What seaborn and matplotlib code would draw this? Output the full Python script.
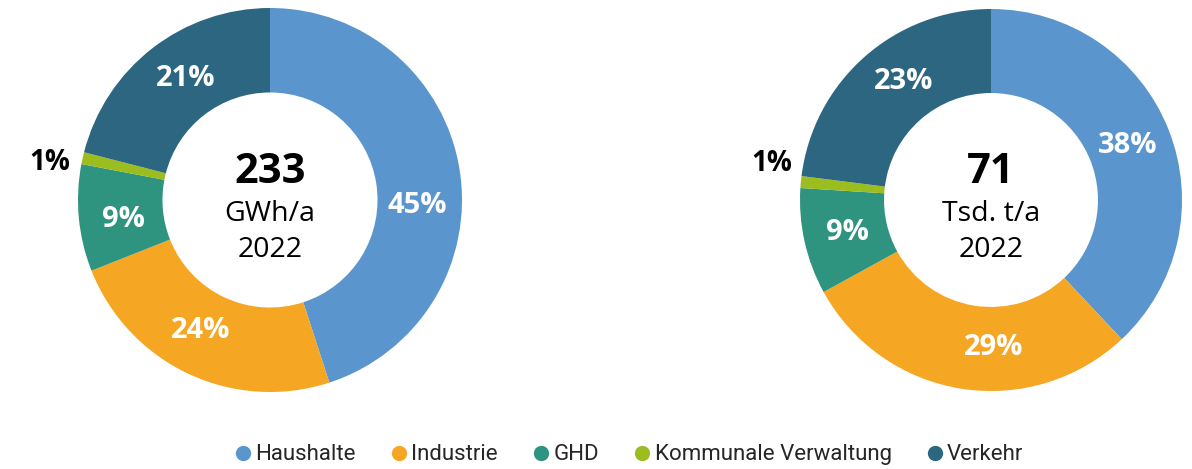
import numpy as np
import matplotlib
matplotlib.use("Agg")
import matplotlib.pyplot as plt
import seaborn as sns
from matplotlib.lines import Line2D

categories = ["Haushalte", "Industrie", "GHD", "Kommunale Verwaltung", "Verkehr"]
energy_share = [45, 24, 9, 1, 21]
co2_share = [38, 29, 9, 1, 23]
centre_texts = [("233", "GWh/a", "2022"), ("71", "Tsd. t/a", "2022")]
colors = ["#5B95CE", "#F5A623", "#2E9480", "#9BBD1E", "#2D6680"]
# small angular nudges (degrees) for the percentage labels
nudge_left = [-11, -3, 2, 2, -3]
nudge_right = [0, 10, 0, -5, -5]

sns.set_theme(style="white")
plt.rcParams['font.family'] = ['Open Sans', 'DejaVu Sans']

W, H = 1192, 469
fig = plt.figure(figsize=(W / 100, H / 100), dpi=100)
fig.patch.set_facecolor("white")


def donut(cx, cy, r, values, centre, nudges):
    ax = fig.add_axes([(cx - r) / W, (H - cy - r) / H, 2 * r / W, 2 * r / H])
    wedges, _ = ax.pie(values, colors=colors, startangle=90, counterclock=False,
                       radius=1.0, wedgeprops=dict(width=0.44, linewidth=0))
    ax.set_xlim(-1, 1)
    ax.set_ylim(-1, 1)
    ax.set_aspect("equal")
    ax.axis("off")
    for w, v, n in zip(wedges, values, nudges):
        ang = np.deg2rad((w.theta1 + w.theta2) / 2 + n)
        if v < 3:
            ax.text(1.06 * np.cos(ang), 1.06 * np.sin(ang), f"{v}%", ha="right",
                    va="center", fontsize=20, fontweight="bold", color="black")
        else:
            ax.text(0.77 * np.cos(ang), 0.77 * np.sin(ang), f"{v}%", ha="center",
                    va="center", fontsize=21, fontweight="bold", color="white")
    ax.text(0, 0.145, centre[0], ha="center", va="center", fontsize=30, fontweight="bold", color="black")
    ax.text(0, -0.075, centre[1], ha="center", va="center", fontsize=20.5, color="black")
    ax.text(0, -0.26, centre[2], ha="center", va="center", fontsize=20.5, color="black")


donut(270, 200, 192, energy_share, centre_texts[0], nudge_left)
donut(991, 200, 191, co2_share, centre_texts[1], nudge_right)

handles = [Line2D([], [], marker="o", linestyle="", markersize=11, markerfacecolor=c,
                  markeredgewidth=0, label=l) for c, l in zip(colors, categories)]
fig.legend(handles=handles, loc="center", bbox_to_anchor=(0.528, 0.03), ncol=5, frameon=False,
           prop=dict(family=["Roboto", "DejaVu Sans"], size=16), handlelength=0.7,
           handletextpad=0.2, columnspacing=1.6)

fig.savefig("out.png", dpi=100, facecolor="white")
